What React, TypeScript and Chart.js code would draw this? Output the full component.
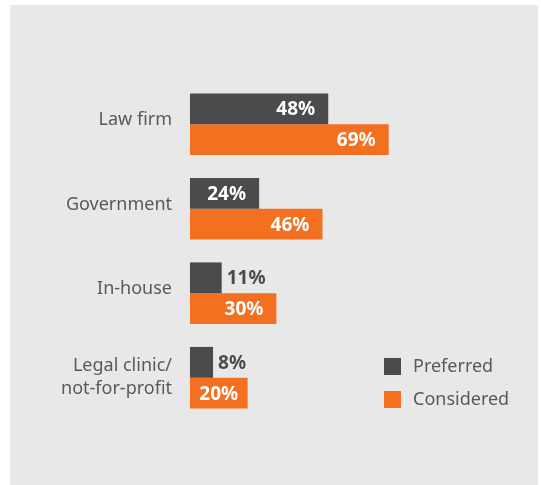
import React, { useEffect, useRef } from "react";
import { Chart, registerables } from "chart.js";

Chart.register(...registerables);

const categories: string[][] = [["Law firm"], ["Government"], ["In-house"], ["Legal clinic/", "not-for-profit"]];
const seriesNames = ["Preferred", "Considered"];
const preferred = [48, 24, 11, 8];
const considered = [69, 46, 30, 20];
const colors = ["#4b4b4d", "#f37021"];

const FONT = "'Noto Sans', 'Open Sans', sans-serif";
const TEXT = "#58595b";

const customPlugin = {
  id: "custom",
  afterDatasetsDraw(chart: any) {
    const ctx = chart.ctx;
    const area = chart.chartArea;
    const yScale = chart.scales.y;
    ctx.save();
    // category labels
    ctx.font = `18px ${FONT}`;
    ctx.fillStyle = TEXT;
    ctx.textAlign = "right";
    ctx.textBaseline = "middle";
    (chart.data.labels as string[][]).forEach((lines, i) => {
      const cy = yScale.getPixelForValue(i);
      const lh = 23;
      const start = lines.length === 1 ? cy - 4 : cy - ((lines.length - 1) * lh) / 2;
      lines.forEach((ln, j) => ctx.fillText(ln, area.left - 18, start + j * lh));
    });
    // value labels
    ctx.font = `bold 19px ${FONT}`;
    chart.data.datasets.forEach((ds: any, di: number) => {
      const meta = chart.getDatasetMeta(di);
      meta.data.forEach((el: any, i: number) => {
        const txt = `${ds.data[i]}%`;
        const tw = ctx.measureText(txt).width;
        const len = el.x - el.base;
        if (tw + 24 <= len) {
          ctx.fillStyle = "#ffffff";
          ctx.textAlign = "right";
          ctx.fillText(txt, el.x - 13, el.y + 1);
        } else if (tw + 8 <= len) {
          ctx.fillStyle = "#ffffff";
          ctx.textAlign = "center";
          ctx.fillText(txt, (el.x + el.base) / 2, el.y + 1);
        } else {
          ctx.fillStyle = "#4b4b4d";
          ctx.textAlign = "left";
          ctx.fillText(txt, el.x + 5, el.y + 1);
        }
      });
    });
    // legend
    ctx.font = `18px ${FONT}`;
    ctx.textAlign = "left";
    chart.data.datasets.forEach((ds: any, di: number) => {
      const top = 358 + di * 33;
      ctx.fillStyle = ds.backgroundColor;
      ctx.fillRect(384, top, 17, 17);
      ctx.fillStyle = TEXT;
      ctx.fillText(ds.label, 413, top + 9);
    });
    ctx.restore();
  },
};

export default function App() {
  const ref = useRef<HTMLCanvasElement>(null);
  useEffect(() => {
    const chart = new Chart(ref.current as HTMLCanvasElement, {
      type: "bar",
      data: {
        labels: categories as any,
        datasets: [
          { label: seriesNames[0], data: preferred, backgroundColor: colors[0] },
          { label: seriesNames[1], data: considered, backgroundColor: colors[1] },
        ],
      },
      options: {
        indexAxis: "y",
        animation: false,
        responsive: false,
        maintainAspectRatio: false,
        layout: { padding: { left: 190, right: 63, top: 82, bottom: 65 } },
        datasets: { bar: { categoryPercentage: 0.73, barPercentage: 1.0 } },
        scales: {
          x: { display: false, min: 0, max: 100 },
          y: { display: false },
        },
        plugins: { legend: { display: false }, tooltip: { enabled: false } },
      },
      plugins: [customPlugin],
    });
    return () => chart.destroy();
  }, []);
  return (
    <div style={{ position: "absolute", left: 0, top: 0, width: 541, height: 485, background: "#ffffff" }}>
      <div style={{ position: "absolute", left: 10, top: 5, width: 528, height: 480, background: "#e8e8e8" }} />
      <canvas ref={ref} width={541} height={485} style={{ position: "absolute", left: 0, top: 0 }} />
    </div>
  );
}
